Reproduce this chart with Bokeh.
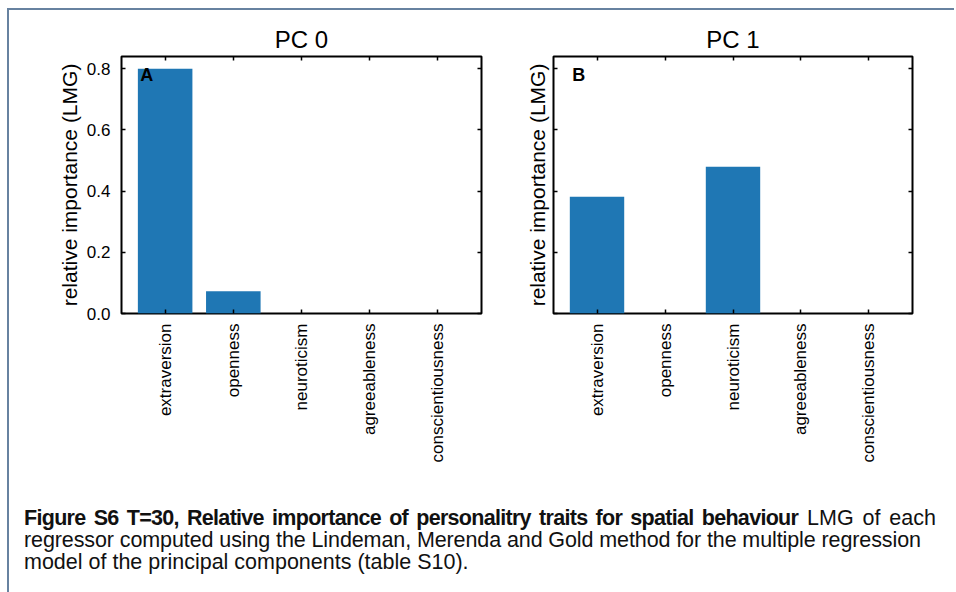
import math
from bokeh.plotting import figure
from bokeh.models import (FactorRange, Range1d, FixedTicker, PrintfTickFormatter,
                          CategoricalAxis, LinearAxis, Label, Div, CustomJSTickFormatter)
from bokeh.layouts import column, row
from bokeh.embed import file_html
from bokeh.resources import INLINE

# ---------------- data ----------------
traits = ["extraversion", "openness", "neuroticism", "agreeableness", "conscientiousness"]
pc0_lmg = [0.80, 0.073, 0.0, 0.0, 0.0]
pc1_lmg = [0.382, 0.0, 0.48, 0.0, 0.0]
y_ticks = [0.0, 0.2, 0.4, 0.6, 0.8]
titles = ["PC 0", "PC 1"]
panel_letters = ["A", "B"]
y_label = "relative importance (LMG)"
caption_bold = "Figure S6 T=30, Relative importance of personalitry traits for spatial behaviour"
caption_rest = ["LMG of each",
                "regressor computed using the Lindeman, Merenda and Gold method for the multiple regression",
                "model of the principal components (table S10)."]

FONT = "Liberation Sans"
BAR = "#1f77b4"


def blank():
    return CustomJSTickFormatter(code="return ''")


def make_panel(title, vals, letter, show_ylabels, mb_left, mb_right, label_standoff):
    p = figure(x_range=FactorRange(factors=traits, range_padding=0.14,
                                   range_padding_units="absolute"),
               y_range=Range1d(0, 0.84),
               width=mb_left + 360 + mb_right, height=46 + 257 + 160,
               min_border_left=mb_left, min_border_right=mb_right,
               min_border_top=46, min_border_bottom=160,
               output_backend="svg", toolbar_location=None, title=title)
    p.vbar(x=traits, top=vals, width=0.8, fill_color=BAR, line_color=None)

    p.title.align = "center"
    p.title.text_font = FONT
    p.title.text_font_size = "24px"
    p.title.text_font_style = "normal"
    p.title.text_color = "black"
    p.title.standoff = 7

    p.xgrid.visible = False
    p.ygrid.visible = False
    p.outline_line_color = "black"
    p.outline_line_width = 2
    p.outline_line_alpha = 1
    p.background_fill_color = "white"
    p.border_fill_color = "white"

    ticker = FixedTicker(ticks=y_ticks, minor_ticks=[])

    xa = p.xaxis[0]
    xa.major_label_orientation = math.pi / 2
    xa.major_label_text_font = FONT
    xa.major_label_text_font_size = "17px"
    xa.major_label_text_color = "black"
    xa.major_label_standoff = 10
    xa.major_tick_in = 4
    xa.major_tick_out = 0
    xa.major_tick_line_width = 1.5
    xa.major_tick_line_color = "black"
    xa.axis_line_color = None

    ya = p.yaxis[0]
    ya.ticker = ticker
    ya.formatter = PrintfTickFormatter(format="%.1f") if show_ylabels else blank()
    ya.major_label_text_font = FONT
    ya.major_label_text_font_size = "17px"
    ya.major_label_text_color = "black"
    ya.major_label_standoff = 11
    ya.major_tick_in = 4
    ya.major_tick_out = 0
    ya.minor_tick_in = 0
    ya.minor_tick_out = 0
    ya.major_tick_line_width = 1.5
    ya.major_tick_line_color = "black"
    ya.axis_line_color = None
    ya.axis_label = y_label
    ya.axis_label_text_font = FONT
    ya.axis_label_text_font_size = "21px"
    ya.axis_label_text_font_style = "normal"
    ya.axis_label_text_color = "black"
    ya.axis_label_standoff = label_standoff

    top = CategoricalAxis(formatter=blank(), major_tick_in=4, major_tick_out=0,
                          major_tick_line_width=1.5, axis_line_color=None,
                          major_label_standoff=0, major_label_text_font_size="1px")
    p.add_layout(top, "above")
    right = LinearAxis(ticker=ticker, formatter=blank(), major_tick_in=4, major_tick_out=0,
                       minor_tick_in=0, minor_tick_out=0, major_tick_line_width=1.5,
                       axis_line_color=None, major_label_standoff=0,
                       major_label_text_font_size="1px")
    p.add_layout(right, "right")

    p.add_layout(Label(x=0.135, y=0.812, text=letter, text_font=FONT,
                       text_font_size="18px", text_font_style="bold",
                       text_baseline="top", text_align="left", text_color="black"))
    return p


pa = make_panel(titles[0], pc0_lmg, panel_letters[0], True, 112, 41, 3)
pb = make_panel(titles[1], pc1_lmg, panel_letters[1], False, 30, 20, 5)

line1 = ('<div style="width:912px;text-align:justify;text-align-last:justify;">'
         '<b style="letter-spacing:-0.7px;">' + caption_bold + '</b> ' + caption_rest[0] +
         '</div>')
line2 = '<div style="white-space:nowrap;letter-spacing:-0.1px;">' + caption_rest[1] + '</div>'
line3 = '<div style="white-space:nowrap;">' + caption_rest[2] + '</div>'
caption = Div(text=line1 + line2 + line3, width=935, height=110,
              styles={"font-family": FONT, "font-size": "21.5px", "line-height": "22px",
                      "padding-left": "10px", "padding-top": "29px", "color": "#111"})

layout = column(row(pa, pb, spacing=0), caption, spacing=0,
                styles={"border-left": "2px solid #6782a0", "border-top": "2px solid #6782a0",
                        "background-color": "white", "margin-left": "7px", "margin-top": "8px"})

open("out.html", "w").write(file_html(layout, INLINE))
